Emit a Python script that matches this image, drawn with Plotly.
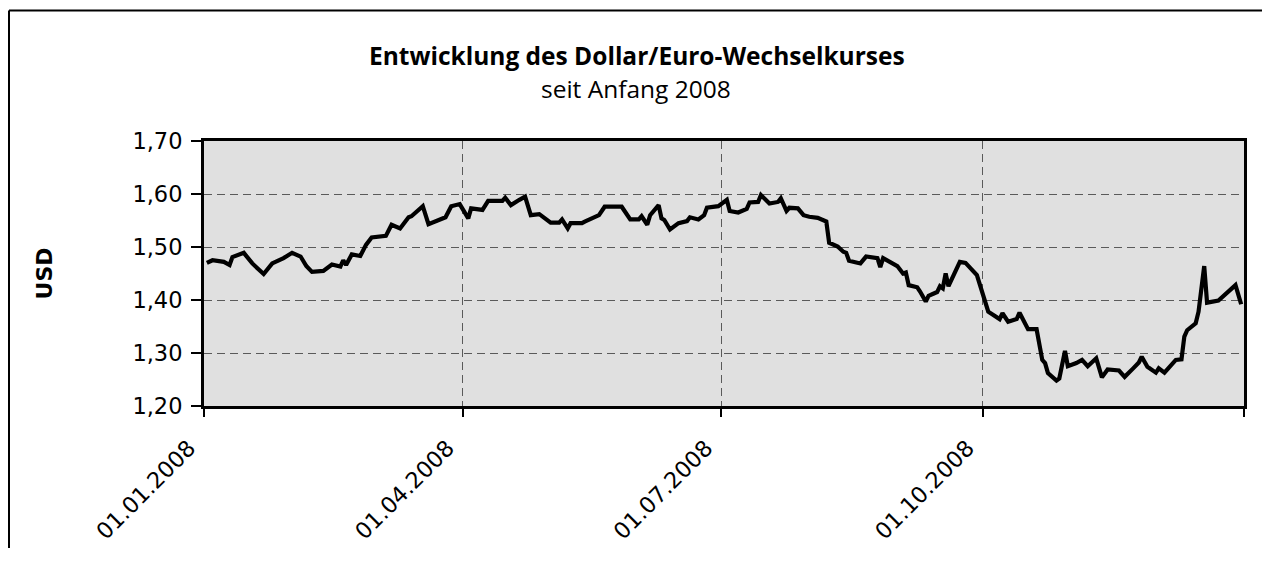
import plotly.graph_objects as go

dates = [
    "2008-01-02", "2008-01-04", "2008-01-08", "2008-01-10", "2008-01-11", "2008-01-15",
    "2008-01-18", "2008-01-22", "2008-01-25", "2008-01-29", "2008-02-01", "2008-02-04",
    "2008-02-06", "2008-02-08", "2008-02-12", "2008-02-15", "2008-02-18", "2008-02-19",
    "2008-02-20", "2008-02-22", "2008-02-25", "2008-02-27", "2008-02-29", "2008-03-05",
    "2008-03-07", "2008-03-10", "2008-03-13", "2008-03-14", "2008-03-18", "2008-03-20",
    "2008-03-26", "2008-03-28", "2008-03-31", "2008-04-03", "2008-04-04", "2008-04-08",
    "2008-04-10", "2008-04-15", "2008-04-16", "2008-04-18", "2008-04-21", "2008-04-23",
    "2008-04-25", "2008-04-28", "2008-05-02", "2008-05-05", "2008-05-06", "2008-05-08",
    "2008-05-09", "2008-05-13", "2008-05-14", "2008-05-19", "2008-05-21", "2008-05-27",
    "2008-05-30", "2008-06-02", "2008-06-03", "2008-06-05", "2008-06-06", "2008-06-09",
    "2008-06-10", "2008-06-11", "2008-06-13", "2008-06-16", "2008-06-19", "2008-06-20",
    "2008-06-23", "2008-06-25", "2008-06-26", "2008-06-30", "2008-07-03", "2008-07-04",
    "2008-07-07", "2008-07-10", "2008-07-11", "2008-07-14", "2008-07-15", "2008-07-18",
    "2008-07-21", "2008-07-22", "2008-07-24", "2008-07-25", "2008-07-28", "2008-07-30",
    "2008-08-01", "2008-08-04", "2008-08-07", "2008-08-08", "2008-08-11", "2008-08-13",
    "2008-08-14", "2008-08-15", "2008-08-19", "2008-08-21", "2008-08-25", "2008-08-26",
    "2008-08-27", "2008-09-01", "2008-09-03", "2008-09-04", "2008-09-05", "2008-09-08",
    "2008-09-09", "2008-09-11", "2008-09-12", "2008-09-15", "2008-09-16", "2008-09-17",
    "2008-09-18", "2008-09-19", "2008-09-23", "2008-09-25", "2008-09-29", "2008-09-30",
    "2008-10-02", "2008-10-03", "2008-10-07", "2008-10-08", "2008-10-10", "2008-10-13",
    "2008-10-14", "2008-10-17", "2008-10-20", "2008-10-22", "2008-10-23", "2008-10-24",
    "2008-10-27", "2008-10-28", "2008-10-30", "2008-10-31", "2008-11-03", "2008-11-05",
    "2008-11-07", "2008-11-10", "2008-11-12", "2008-11-14", "2008-11-18", "2008-11-20",
    "2008-11-23", "2008-11-25", "2008-11-26", "2008-11-28", "2008-12-01", "2008-12-02",
    "2008-12-04", "2008-12-08", "2008-12-10", "2008-12-11", "2008-12-12", "2008-12-15",
    "2008-12-16", "2008-12-18", "2008-12-19", "2008-12-23", "2008-12-29", "2008-12-31",
]

usd = [
    1.470, 1.475, 1.472, 1.466, 1.481, 1.489,
    1.469, 1.449, 1.469, 1.479, 1.489, 1.482,
    1.464, 1.453, 1.455, 1.467, 1.463, 1.475,
    1.466, 1.486, 1.483, 1.504, 1.518, 1.521,
    1.542, 1.535, 1.556, 1.558, 1.577, 1.543,
    1.556, 1.577, 1.581, 1.554, 1.573, 1.570,
    1.587, 1.587, 1.593, 1.579, 1.589, 1.595,
    1.560, 1.562, 1.546, 1.546, 1.552, 1.535,
    1.545, 1.545, 1.548, 1.560, 1.576, 1.576,
    1.552, 1.552, 1.558, 1.542, 1.560, 1.579,
    1.554, 1.551, 1.533, 1.545, 1.549, 1.556,
    1.552, 1.560, 1.574, 1.577, 1.589, 1.568,
    1.565, 1.572, 1.584, 1.585, 1.598, 1.582,
    1.585, 1.592, 1.568, 1.574, 1.573, 1.560,
    1.557, 1.555, 1.548, 1.508, 1.501, 1.491,
    1.489, 1.474, 1.469, 1.482, 1.479, 1.462,
    1.479, 1.464, 1.450, 1.452, 1.428, 1.424,
    1.416, 1.397, 1.408, 1.415, 1.426, 1.422,
    1.450, 1.426, 1.472, 1.470, 1.447, 1.431,
    1.394, 1.378, 1.364, 1.375, 1.359, 1.364,
    1.376, 1.345, 1.345, 1.287, 1.281, 1.262,
    1.248, 1.252, 1.304, 1.275, 1.281, 1.287,
    1.275, 1.290, 1.254, 1.269, 1.267, 1.255,
    1.271, 1.282, 1.293, 1.274, 1.263, 1.271,
    1.263, 1.287, 1.288, 1.331, 1.343, 1.356,
    1.378, 1.464, 1.395, 1.399, 1.428, 1.392,
]

x_tickvals = ["2008-01-01", "2008-04-01", "2008-07-01", "2008-10-01", "2009-01-01"]
x_ticktext = ["01.01.2008", "01.04.2008", "01.07.2008", "01.10.2008", ""]
y_tickvals = [1.20, 1.30, 1.40, 1.50, 1.60, 1.70]
y_ticktext = ["1,20", "1,30", "1,40", "1,50", "1,60", "1,70"]

title_main = "Entwicklung des Dollar/Euro-Wechselkurses"
title_sub = "seit Anfang 2008"
y_title = "USD"

fig = go.Figure()
fig.add_trace(go.Scatter(
    x=dates, y=usd, mode="lines",
    line=dict(color="black", width=4.2),
    showlegend=False, hoverinfo="skip",
))

tick_font = dict(family="DejaVu Sans", size=22.5, color="black")
grid_col = "#5a5a5a"

fig.update_layout(
    width=1254, height=540,
    margin=dict(l=196, r=18, t=133, b=142, autoexpand=False),
    paper_bgcolor="white",
    plot_bgcolor="#e0e0e0",
    showlegend=False,
    xaxis=dict(
        type="date",
        range=["2008-01-01", "2009-01-01"],
        tickmode="array", tickvals=x_tickvals, ticktext=x_ticktext,
        tickangle=-45, tickfont=tick_font,
        ticks="outside", ticklen=8, tickwidth=2, tickcolor="black",
        ticklabelstandoff=9, ticklabelshift=-15,
        showline=True, linecolor="black", linewidth=3, mirror=True,
        showgrid=True, gridcolor=grid_col, gridwidth=1, griddash="8px,5px",
        zeroline=False, automargin=False,
    ),
    yaxis=dict(
        range=[1.20, 1.70],
        tickmode="array", tickvals=y_tickvals, ticktext=y_ticktext,
        tickfont=tick_font,
        ticks="outside", ticklen=10, tickwidth=2, tickcolor="black",
        ticklabelstandoff=4,
        showline=True, linecolor="black", linewidth=3, mirror=True,
        showgrid=True, gridcolor=grid_col, gridwidth=1, griddash="8px,5px",
        zeroline=False, automargin=False,
    ),
    annotations=[
        dict(text=f"<b>{title_main}</b>", xref="paper", yref="paper",
             x=0.4168, y=1.3245, xanchor="center", yanchor="middle", showarrow=False,
             font=dict(family="Open Sans", size=24.5, color="black")),
        dict(text=title_sub, xref="paper", yref="paper",
             x=0.415, y=1.20, xanchor="center", yanchor="middle", showarrow=False,
             font=dict(family="Open Sans", size=24.5, color="black")),
        dict(text=f"<b>{y_title}</b>", xref="paper", yref="paper",
             x=-0.1529, y=0.5, xanchor="center", yanchor="middle", showarrow=False,
             textangle=-90,
             font=dict(family="DejaVu Sans", size=22, color="black")),
    ],
    shapes=[
        dict(type="line", xref="paper", yref="paper",
             x0=-0.1875, x1=1.0173, y0=1.4925, y1=1.4925,
             line=dict(color="black", width=2), layer="below"),
        dict(type="line", xref="paper", yref="paper",
             x0=-0.1875, x1=-0.1875, y0=-1.0, y1=1.4925,
             line=dict(color="black", width=2), layer="below"),
    ],
)

fig.write_html("out.html")
